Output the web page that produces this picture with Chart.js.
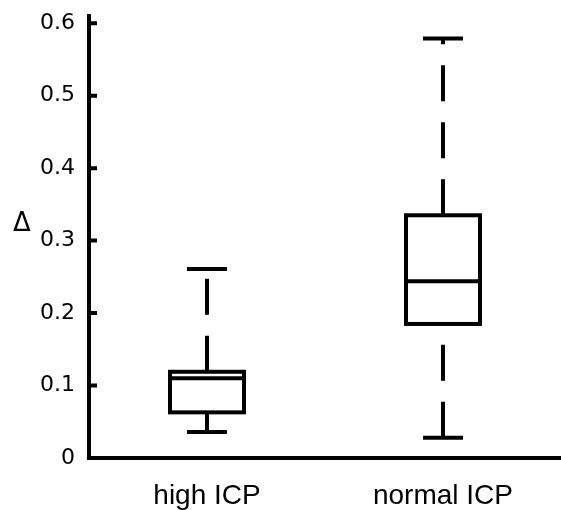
<!DOCTYPE html>
<html>
<head>
<meta charset="utf-8">
<script src="https://cdn.jsdelivr.net/npm/chart.js@4/dist/chart.umd.min.js"></script>
<style>
  html, body { margin: 0; padding: 0; background: #ffffff; }
  canvas { display: block; }
</style>
</head>
<body>
<canvas id="chart" width="561" height="510"></canvas>
<script>
// Groups and their box-plot statistics
const categories = ['high ICP', 'normal ICP'];
const positions = [1, 2];
const whiskerLow = [0.036, 0.028];
const q1 = [0.063, 0.185];
const median = [0.110, 0.244];
const q3 = [0.119, 0.335];
const whiskerHigh = [0.261, 0.579];

// Y axis ticks
const yTicks = [0, 0.1, 0.2, 0.3, 0.4, 0.5, 0.6];
const yTickLabels = ['0', '0.1', '0.2', '0.3', '0.4', '0.5', '0.6'];
const yTitle = 'Δ';

const INK = '#000000';
const LINE = 4;
const CAP_HALF = 20;
const DASH = [36, 21];

// Draws dashed whiskers, caps, box outlines and medians on top of the (invisible) bars,
// plus inward tick marks and the unrotated axis symbol.
const boxPlotPlugin = {
  id: 'boxPlot',
  afterDatasetsDraw(chart) {
    const ctx = chart.ctx;
    const ys = chart.scales.y;
    const meta = chart.getDatasetMeta(0);
    ctx.save();
    ctx.strokeStyle = INK;
    ctx.lineWidth = LINE;
    ctx.lineCap = 'butt';
    meta.data.forEach((bar, i) => {
      const x = bar.x;
      const half = bar.width / 2;
      const yLo = ys.getPixelForValue(whiskerLow[i]);
      const yQ1 = ys.getPixelForValue(q1[i]);
      const yMed = ys.getPixelForValue(median[i]);
      const yQ3 = ys.getPixelForValue(q3[i]);
      const yHi = ys.getPixelForValue(whiskerHigh[i]);

      // upper whisker, dashes start at the box
      ctx.setLineDash(DASH);
      ctx.beginPath();
      ctx.moveTo(x, yQ3);
      ctx.lineTo(x, yHi);
      ctx.stroke();
      // lower whisker, dashes start at the cap
      ctx.beginPath();
      ctx.moveTo(x, yLo);
      ctx.lineTo(x, yQ1);
      ctx.stroke();
      ctx.setLineDash([]);

      // caps
      ctx.beginPath();
      ctx.moveTo(x - CAP_HALF, yHi);
      ctx.lineTo(x + CAP_HALF, yHi);
      ctx.moveTo(x - CAP_HALF, yLo);
      ctx.lineTo(x + CAP_HALF, yLo);
      ctx.stroke();

      // box and median
      ctx.strokeRect(x - half, yQ3, half * 2, yQ1 - yQ3);
      ctx.beginPath();
      ctx.moveTo(x - half, yMed);
      ctx.lineTo(x + half, yMed);
      ctx.stroke();
    });

    // inward tick marks on the y axis
    const left = chart.chartArea.left;
    ctx.beginPath();
    yTicks.forEach(v => {
      const py = ys.getPixelForValue(v);
      ctx.moveTo(left, py);
      ctx.lineTo(left + 8, py);
    });
    ctx.stroke();

    // axis symbol
    ctx.fillStyle = INK;
    ctx.font = '26px "DejaVu Sans"';
    ctx.textAlign = 'center';
    ctx.textBaseline = 'middle';
    ctx.fillText(yTitle, 22, 224);
    ctx.restore();
  }
};

new Chart(document.getElementById('chart'), {
  type: 'bar',
  data: {
    datasets: [{
      data: positions.map((p, i) => ({ x: p, y: [q1[i], q3[i]] })),
      backgroundColor: 'rgba(0,0,0,0)',
      borderWidth: 0,
      barThickness: 74
    }]
  },
  options: {
    responsive: false,
    animation: false,
    devicePixelRatio: 1,
    layout: { padding: { top: 16, right: 0, bottom: 0, left: 0 } },
    plugins: {
      legend: { display: false },
      tooltip: { enabled: false }
    },
    scales: {
      x: {
        type: 'linear',
        offset: false,
        min: 0.5,
        max: 2.5,
        grid: { display: false, drawTicks: false, offset: false },
        border: { display: true, color: INK, width: LINE },
        afterBuildTicks: s => { s.ticks = positions.map(v => ({ value: v })); },
        afterFit: s => { s.height = 52; s.paddingLeft = 0; s.paddingRight = 0; },
        ticks: {
          padding: 21,
          color: INK,
          font: { family: '"Liberation Sans", Arial, sans-serif', size: 28 },
          callback: v => {
            const i = positions.indexOf(v);
            return i >= 0 ? categories[i] : '';
          }
        }
      },
      y: {
        min: 0,
        max: 0.61,
        grid: { display: false, drawTicks: false },
        border: { display: true, color: INK, width: LINE },
        afterBuildTicks: s => { s.ticks = yTicks.map(v => ({ value: v })); },
        afterFit: s => { s.width = 89; s.paddingTop = 0; s.paddingBottom = 0; },
        ticks: {
          padding: 14,
          color: INK,
          font: { family: '"DejaVu Sans", sans-serif', size: 22 },
          callback: (v, i) => yTickLabels[i]
        }
      }
    }
  },
  plugins: [boxPlotPlugin]
});
</script>
</body>
</html>
